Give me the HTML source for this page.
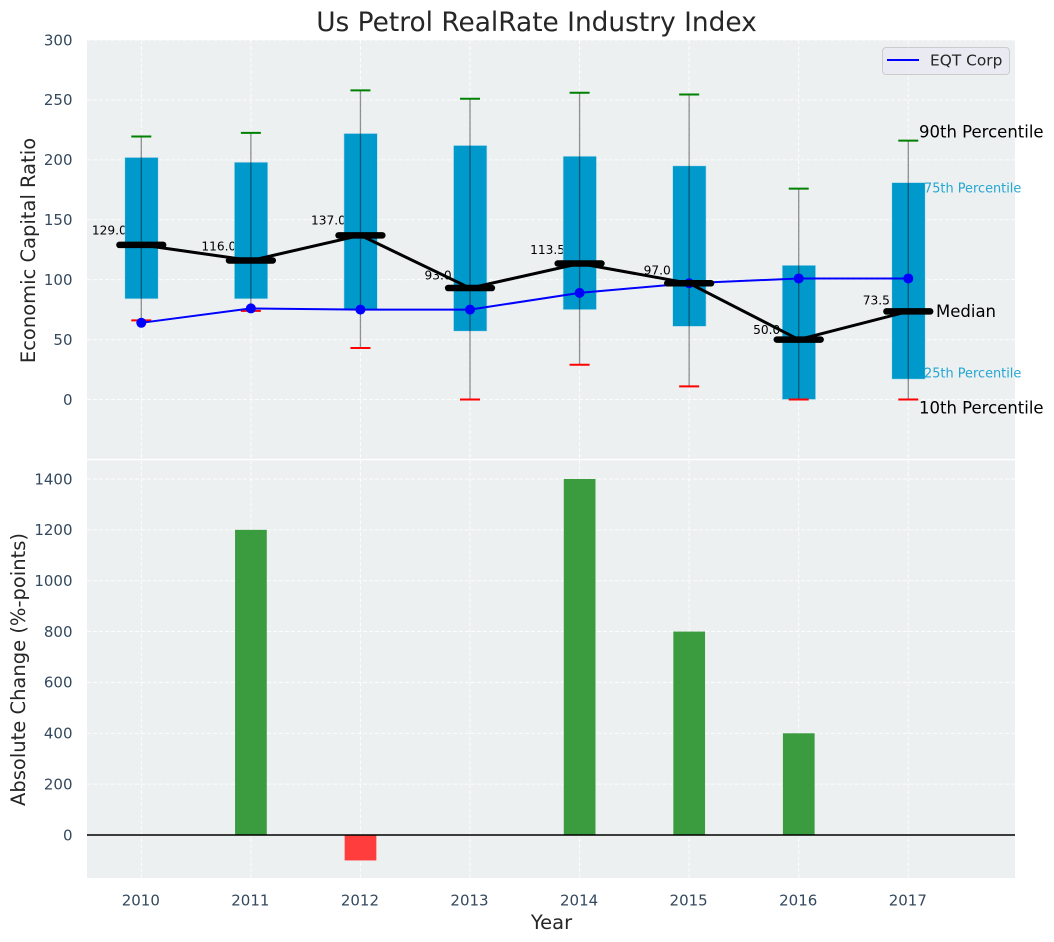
<!DOCTYPE html>
<html lang="en">
<head>
<meta charset="utf-8">
<title>Us Petrol RealRate Industry Index</title>
<style>
html,body{margin:0;padding:0;background:#fff;}
svg{display:block;font-family:"DejaVu Sans","Liberation Sans",sans-serif;}
</style>
</head>
<body>
<svg id="chart" xmlns="http://www.w3.org/2000/svg" width="1054" height="942" viewBox="0 0 1054 942">
  <rect x="0" y="0" width="1054" height="942" fill="#ffffff"/>
  <rect x="87" y="40" width="928" height="418.8" fill="#ecf0f1"/>
  <rect x="87" y="460.3" width="928" height="417.7" fill="#ecf0f1"/>
  <g id="grid"></g>
  <g id="marks"></g>
  <g id="ticks"></g>
  <text x="536.5" y="31" text-anchor="middle" font-size="26.4" fill="#262626">Us Petrol RealRate Industry Index</text>
  <text transform="translate(35 250.5) rotate(-90)" text-anchor="middle" font-size="19.5" fill="#262626">Economic Capital Ratio</text>
  <text transform="translate(25 669.5) rotate(-90)" text-anchor="middle" font-size="19.5" fill="#262626">Absolute Change (%-points)</text>
  <text x="551.5" y="929" text-anchor="middle" font-size="19.5" fill="#262626">Year</text>
  <g>
    <rect x="882.5" y="47.5" width="127" height="27" rx="3.5" fill="#eaeaf2" fill-opacity="0.8" stroke="#cccccc"/>
    <line x1="887" y1="60" x2="919" y2="60" stroke="#0000ff" stroke-width="2"/>
    <text x="930" y="65.5" font-size="15.4" fill="#262626">EQT Corp</text>
  </g>
  <g>
    <text x="919" y="137.5" font-size="16.5" fill="#000000">90th Percentile</text>
    <text x="924" y="192.3" font-size="12.9" fill="#0099cc" fill-opacity="0.85">75th Percentile</text>
    <text x="936" y="317" font-size="16.5" fill="#000000">Median</text>
    <text x="924" y="377.5" font-size="12.9" fill="#0099cc" fill-opacity="0.85">25th Percentile</text>
    <text x="919" y="413.5" font-size="16.5" fill="#000000">10th Percentile</text>
  </g>
</svg>
<script>
const years = ['2010', '2011', '2012', '2013', '2014', '2015', '2016', '2017'];
const p90 = [219.5, 222.5, 258, 251, 256, 254.5, 176, 216];
const p75 = [202, 198, 222, 212, 203, 195, 112, 181];
const medians = [129, 116, 137, 93, 113.5, 97, 50, 73.5];
const p25 = [84, 84, 75, 57, 75, 61, 0, 17];
const p10 = [66, 74, 43, 0, 29, 11, 0, 0];
const eqtCorp = [64, 76, 75, 75, 89, 97, 101, 101];
const absoluteChange = [0, 1200, -100, 0, 1400, 800, 400, 0];
const topTicks = [0, 50, 100, 150, 200, 250, 300];
const bottomTicks = [0, 200, 400, 600, 800, 1000, 1200, 1400];

const NS = 'http://www.w3.org/2000/svg';
const gridLayer = document.getElementById('grid');
const marksLayer = document.getElementById('marks');
const ticksLayer = document.getElementById('ticks');

function xAxis(i) { return 141.3 + i * 109.57; }
function yTop(v) { return 399.5 - v * 1.1983; }
function yBottom(v) { return 835 - v * 0.2543; }

function make(tag, parent, attrs) {
  const el = document.createElementNS(NS, tag);
  for (const key in attrs) el.setAttribute(key, attrs[key]);
  parent.appendChild(el);
  return el;
}

const gridStyle = { stroke: '#ffffff', 'stroke-width': 1, 'stroke-dasharray': '4 2', 'stroke-opacity': 0.85 };

years.forEach(function (year, i) {
  const a = make('line', gridLayer, Object.assign({ x1: xAxis(i), x2: xAxis(i), y1: 40, y2: 458.8 }, gridStyle));
  
  
  const b = make('line', gridLayer, Object.assign({ x1: xAxis(i), x2: xAxis(i), y1: 460.3, y2: 878 }, gridStyle));
  
  
  const t = make('text', ticksLayer, { x: xAxis(i) - 0.5, y: 905.3, 'text-anchor': 'middle', 'font-size': 15, fill: '#34495e' });
  t.textContent = year;
  
  
});

topTicks.forEach(function (v) {
  const g = make('line', gridLayer, Object.assign({ x1: 87, x2: 1015, y1: yTop(v), y2: yTop(v) }, gridStyle));
  
  
  const t = make('text', ticksLayer, { x: 72.5, y: yTop(v) + 5.3, 'text-anchor': 'end', 'font-size': 15, fill: '#34495e' });
  t.textContent = String(v);
  
  
});

bottomTicks.forEach(function (v) {
  const g = make('line', gridLayer, Object.assign({ x1: 87, x2: 1015, y1: yBottom(v), y2: yBottom(v) }, gridStyle));
  
  
  const t = make('text', ticksLayer, { x: 72.5, y: yBottom(v) + 5.3, 'text-anchor': 'end', 'font-size': 15, fill: '#34495e' });
  t.textContent = String(v);
  
  
});

/* median value annotations sit under the boxes */
medians.forEach(function (v, i) {
  const t = make('text', marksLayer, { x: xAxis(i) - 32, y: yTop(v) - 2.5 - 0.0625 * v, 'text-anchor': 'middle', 'font-size': 12.2, fill: '#000000' });
  t.textContent = v.toFixed(1);
  
  
});

/* interquartile boxes */
years.forEach(function (year, i) {
  const box = make('rect', marksLayer, {
    x: xAxis(i) - 16.5, y: yTop(p75[i]), width: 33.4, height: yTop(p25[i]) - yTop(p75[i]),
    fill: '#0099cc', stroke: '#bfe0ec', 'stroke-width': 0.6
  });
  
  
});

/* whiskers and caps */
years.forEach(function (year, i) {
  const w = make('line', marksLayer, {
    x1: xAxis(i), x2: xAxis(i), y1: yTop(p90[i]), y2: yTop(p10[i]),
    stroke: '#000000', 'stroke-opacity': 0.42, 'stroke-width': 1.3
  });
  
  
  const hi = make('line', marksLayer, {
    x1: xAxis(i) - 10, x2: xAxis(i) + 10, y1: yTop(p90[i]), y2: yTop(p90[i]),
    stroke: '#008000', 'stroke-width': 2
  });
  
  
  const lo = make('line', marksLayer, {
    x1: xAxis(i) - 10, x2: xAxis(i) + 10, y1: yTop(p10[i]), y2: yTop(p10[i]),
    stroke: '#ff0000', 'stroke-width': 2
  });
  
  
});

/* EQT Corp line and markers */
const eqtLine = make('polyline', marksLayer, {
  points: eqtCorp.map(function (v, i) { return xAxis(i) + ',' + yTop(v); }).join(' '),
  fill: 'none', stroke: '#0000ff', 'stroke-width': 2
});


eqtCorp.forEach(function (v, i) {
  const c = make('circle', marksLayer, { cx: xAxis(i), cy: yTop(v), r: 5, fill: '#0000ff' });
  
  
});

/* median connecting line and thick median bars */
const medianLine = make('polyline', marksLayer, {
  points: medians.map(function (v, i) { return xAxis(i) + ',' + yTop(v); }).join(' '),
  fill: 'none', stroke: '#000000', 'stroke-width': 3
});


medians.forEach(function (v, i) {
  const m = make('line', marksLayer, {
    x1: xAxis(i) - 21.9, x2: xAxis(i) + 21.9, y1: yTop(v), y2: yTop(v),
    stroke: '#000000', 'stroke-width': 6.5, 'stroke-linecap': 'round'
  });
  
  
});

/* absolute change bars */
absoluteChange.forEach(function (v, i) {
  if (v === 0) return;
  const top = Math.min(yBottom(v), yBottom(0));
  const b = make('rect', marksLayer, {
    x: xAxis(i) - 15.8, y: top, width: 31.7, height: Math.abs(yBottom(v) - yBottom(0)),
    fill: v > 0 ? '#3a9b3f' : '#ff3d3d'
  });
  
  
});

const zeroLine = make('line', marksLayer, {
  x1: 87, x2: 1015, y1: yBottom(0), y2: yBottom(0), stroke: '#000000', 'stroke-width': 1.6
});


</script>
</body>
</html>
